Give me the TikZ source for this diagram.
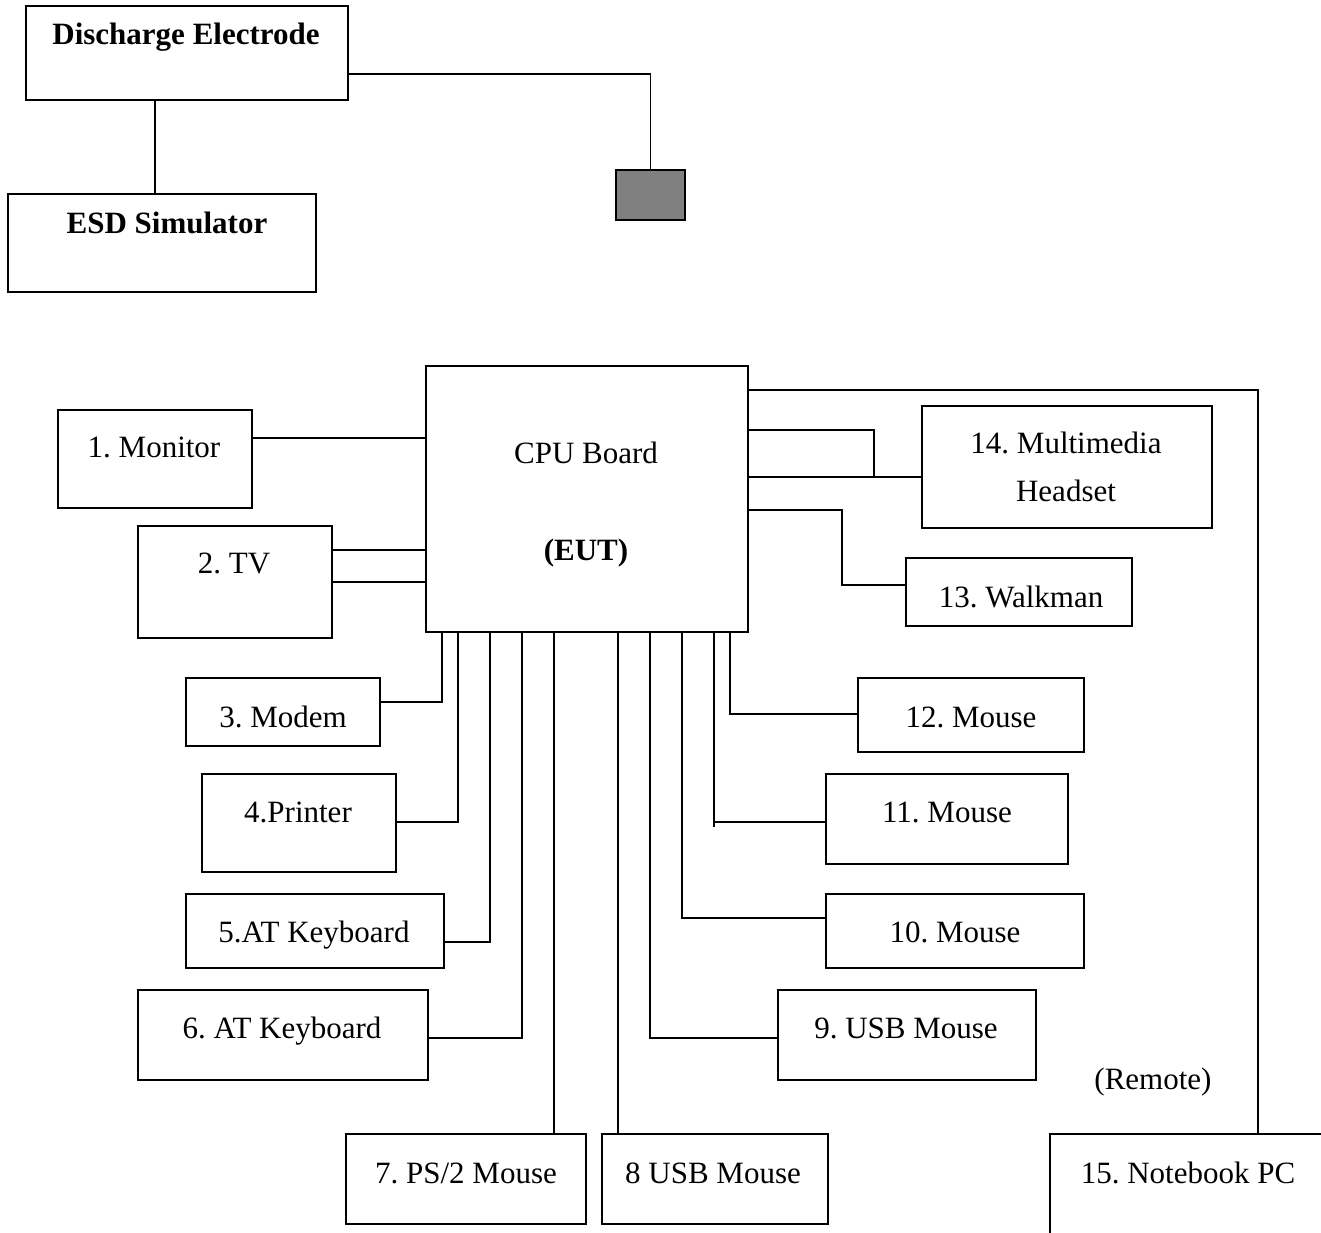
\documentclass[tikz,border=0pt]{standalone}
\usepackage{fontspec}
\setmainfont{Liberation Serif}
\definecolor{padgray}{HTML}{808080}
\frenchspacing
\begin{document}
\begin{tikzpicture}[x=1pt,y=-1pt,
  box/.style={draw, line width=1.8pt, anchor=north west, inner sep=0pt, outer sep=0pt},
  lbl/.style={anchor=base, inner sep=0pt, font=\fontsize{31}{36}\selectfont},
  blbl/.style={lbl, font=\fontsize{31}{36}\selectfont\bfseries},
  wire/.style={line width=1.8pt}]
\clip (0,0) rectangle (1321,1232);

% ESD test set-up
\node[box, minimum width=322pt, minimum height=94pt] (de) at (26,6) {};
\node[box, minimum width=308pt, minimum height=98pt] (esd) at (8,194) {};
\node[box, minimum width=69pt, minimum height=50pt, fill=padgray] (pad) at (616,170) {};
\node[blbl] (deT) at (186,44) {Discharge Electrode};
\node[blbl] (esdT) at (167,233) {ESD Simulator};

% equipment under test
\node[box, minimum width=322pt, minimum height=266pt] (cpu) at (426,366) {};
\node[lbl] (cpuT) at (586,463) {CPU Board};
\node[blbl] (eutT) at (586,560) {(EUT)};

% peripherals
\node[box, minimum width=194pt, minimum height=98pt] (mon) at (58,410) {};
\node[box, minimum width=194pt, minimum height=112pt] (tv) at (138,526) {};
\node[box, minimum width=290pt, minimum height=122pt] (head) at (922,406) {};
\node[box, minimum width=226pt, minimum height=68pt] (walk) at (906,558) {};
\node[box, minimum width=194pt, minimum height=68pt] (modem) at (186,678) {};
\node[box, minimum width=194pt, minimum height=98pt] (prn) at (202,774) {};
\node[box, minimum width=258pt, minimum height=74pt] (atk5) at (186,894) {};
\node[box, minimum width=290pt, minimum height=90pt] (atk6) at (138,990) {};
\node[box, minimum width=240pt, minimum height=90pt] (ps2) at (346,1134) {};
\node[box, minimum width=226pt, minimum height=90pt] (usb8) at (602,1134) {};
\node[box, minimum width=258pt, minimum height=90pt] (usb9) at (778,990) {};
\node[box, minimum width=258pt, minimum height=74pt] (m10) at (826,894) {};
\node[box, minimum width=242pt, minimum height=90pt] (m11) at (826,774) {};
\node[box, minimum width=226pt, minimum height=74pt] (m12) at (858,678) {};
\node[box, minimum width=290pt, minimum height=126pt] (nb) at (1050,1134) {};

\node[lbl] (monT) at (154,457) {1. Monitor};
\node[lbl] (tvT) at (234,573) {2. TV};
\node[lbl] (headT) at (1066,453) {14. Multimedia};
\node[lbl] (headT2) at (1066,501) {Headset};
\node[lbl] (walkT) at (1021,607) {13. Walkman};
\node[lbl] (modemT) at (283,727) {3. Modem};
\node[lbl] (prnT) at (298,822) {4.Printer};
\node[lbl] (atk5T) at (314,942) {5.AT Keyboard};
\node[lbl] (atk6T) at (282,1038) {6. AT Keyboard};
\node[lbl] (ps2T) at (466,1183) {7. PS/2 Mouse};
\node[lbl] (usb8T) at (713,1183) {8 USB Mouse};
\node[lbl] (usb9T) at (906,1038) {9. USB Mouse};
\node[lbl] (m10T) at (955,942) {10. Mouse};
\node[lbl] (m11T) at (947,822) {11. Mouse};
\node[lbl] (m12T) at (971,727) {12. Mouse};
\node[lbl] (nbT) at (1188,1183) {15. Notebook PC};
\node[lbl] (remote) at (1153,1089) {(Remote)};

% cables of the test set-up
\draw[wire] (de.south -| 155,0) -- (esd.north -| 155,0);
\draw[wire] (de.east |- 0,74) -| (pad.north);

% cables on the left of the CPU board
\draw[wire] (mon.east |- 0,438) -- (cpu.west |- 0,438);
\draw[wire] (tv.east |- 0,550) -- (cpu.west |- 0,550);
\draw[wire] (tv.east |- 0,582) -- (cpu.west |- 0,582);

% cables on the right of the CPU board
\draw[wire] (cpu.east |- 0,390) -| (nb.north -| 1258,0);
\draw[wire] (cpu.east |- 0,430) -| (874,477);
\draw[wire] (cpu.east |- 0,477) -- (head.west |- 0,477);
\draw[wire] (cpu.east |- 0,510) -| (842,585) -- (walk.west |- 0,585);

% cables below the CPU board
\draw[wire] (cpu.south -| 442,0) |- (modem.east |- 0,702);
\draw[wire] (cpu.south -| 458,0) |- (prn.east |- 0,822);
\draw[wire] (cpu.south -| 490,0) |- (atk5.east |- 0,942);
\draw[wire] (cpu.south -| 522,0) |- (atk6.east |- 0,1038);
\draw[wire] (cpu.south -| 554,0) -- (ps2.north -| 554,0);
\draw[wire] (cpu.south -| 618,0) -- (usb8.north -| 618,0);
\draw[wire] (cpu.south -| 650,0) |- (usb9.west |- 0,1038);
\draw[wire] (cpu.south -| 682,0) |- (m10.west |- 0,918);
\draw[wire] (cpu.south -| 714,0) -- (714,827);
\draw[wire] (714,822) -- (m11.west |- 0,822);
\draw[wire] (cpu.south -| 730,0) |- (m12.west |- 0,714);
\end{tikzpicture}
\end{document}
